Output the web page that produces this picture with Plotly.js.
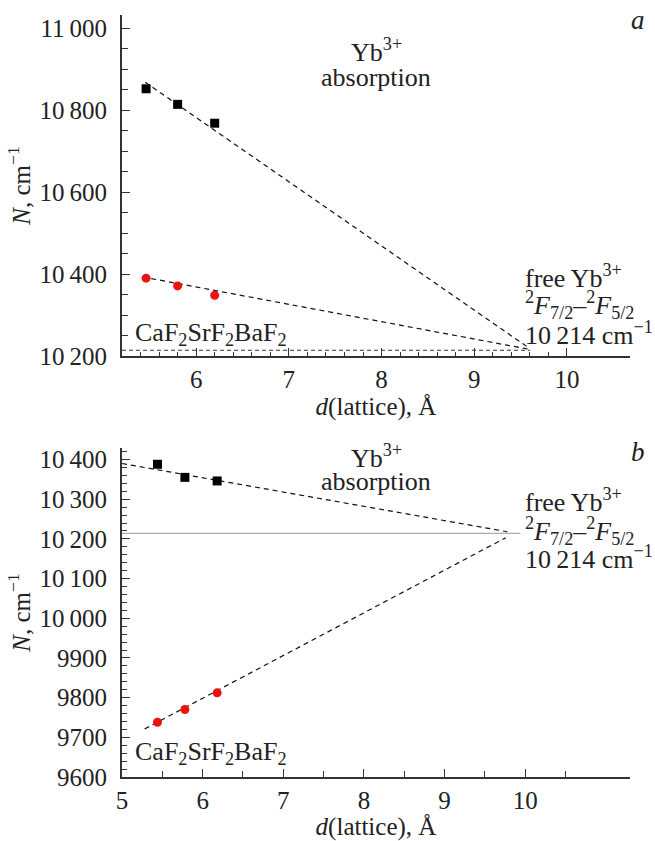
<!DOCTYPE html>
<html>
<head>
<meta charset="utf-8">
<script src="https://cdn.plot.ly/plotly-3.0.1.min.js"></script>
<style>
html,body{margin:0;padding:0;background:#fff;}
#chart{width:655px;height:841px;}
#preload{font-family:'Liberation Serif';position:absolute;left:0;top:0;color:#fff;font-size:20px;z-index:-1;}
</style>
</head>
<body>
<div id="preload">absorption <i>N d F</i> 10 800 − – Å</div>
<div id="chart"></div>
<script>
// ---- Data ----
// Panel a
const latticeA = [5.46, 5.80, 6.20];
const absorptionA = [10852, 10814, 10768];
const emissionA = [10390, 10371, 10348];
const fitAbsAx = [5.45, 9.6];
const fitAbsAy = [10868, 10218];
const fitEmAx = [5.42, 9.6];
const fitEmAy = [10393, 10216];
const freeAx = [5.2, 9.6];
const freeAy = [10214, 10214];
// Panel b
const latticeB = [5.44, 5.78, 6.18];
const absorptionB = [10388, 10355, 10346];
const emissionB = [9738, 9770, 9812];
const fitAbsBx = [5.0, 9.78];
const fitAbsBy = [10390, 10218];
const fitEmBx = [5.28, 9.76];
const fitEmBy = [9721, 10203];
const freeBx = [5.0, 9.94];
const freeBy = [10214, 10214];
// Tick labels
const yTickValsA = [10200, 10400, 10600, 10800, 11000];
const yTickTextA = ['10\u2009200', '10\u2009400', '10\u2009600', '10\u2009800', '11\u2009000'];
const xTickValsA = [6, 7, 8, 9, 10];
const yTickValsB = [9600, 9700, 9800, 9900, 10000, 10100, 10200, 10300, 10400];
const yTickTextB = ['9600', '9700', '9800', '9900', '10\u2009000', '10\u2009100', '10\u2009200', '10\u2009300', '10\u2009400'];
const xTickValsB = [5, 6, 7, 8, 9, 10];

// ---- Styling helpers ----
const W = 655, H = 841;
const px = v => v / W;
const py = v => 1 - v / H;
const FONT = 'Liberation Serif';
const TXT = '#222';
const AX = '#333';
const RED = '#ee1111';
const dash = {color: '#111', width: 1.2, dash: '5px,4px'};

function range(a, b, s) { const r = []; for (let v = a; v <= b + 1e-9; v += s) r.push(Math.round(v * 1000) / 1000); return r; }

const traces = [
  {x: freeAx, y: freeAy, xaxis: 'x', yaxis: 'y', mode: 'lines', line: {color: '#333', width: 1, dash: '4px,3px'}},
  {x: fitAbsAx, y: fitAbsAy, xaxis: 'x', yaxis: 'y', mode: 'lines', line: dash},
  {x: fitEmAx, y: fitEmAy, xaxis: 'x', yaxis: 'y', mode: 'lines', line: dash},
  {x: latticeA, y: absorptionA, xaxis: 'x', yaxis: 'y', mode: 'markers', marker: {symbol: 'square', size: 9, color: '#000'}},
  {x: latticeA, y: emissionA, xaxis: 'x', yaxis: 'y', mode: 'markers', marker: {symbol: 'circle', size: 9, color: RED}},
  {x: freeBx, y: freeBy, xaxis: 'x2', yaxis: 'y2', mode: 'lines', line: {color: '#aaa', width: 1.2}},
  {x: fitAbsBx, y: fitAbsBy, xaxis: 'x2', yaxis: 'y2', mode: 'lines', line: dash},
  {x: fitEmBx, y: fitEmBy, xaxis: 'x2', yaxis: 'y2', mode: 'lines', line: dash},
  {x: latticeB, y: absorptionB, xaxis: 'x2', yaxis: 'y2', mode: 'markers', marker: {symbol: 'square', size: 9, color: '#000'}},
  {x: latticeB, y: emissionB, xaxis: 'x2', yaxis: 'y2', mode: 'markers', marker: {symbol: 'circle', size: 9, color: RED}}
];

const tickFont = {family: FONT, size: 25, color: TXT};
const titleFont = {family: FONT, size: 25, color: TXT};
const baseAxis = {
  showgrid: false, zeroline: false, showline: true, linecolor: AX, linewidth: 2,
  ticks: 'inside', tickcolor: AX, tickwidth: 1.2
};

const xDom = [px(122), px(630)];
const layout = {
  width: W, height: H,
  margin: {l: 0, r: 0, t: 0, b: 0},
  paper_bgcolor: '#fff', plot_bgcolor: '#fff',
  showlegend: false,
  font: {family: FONT, size: 25, color: TXT},
  xaxis: Object.assign({}, baseAxis, {
    domain: xDom, anchor: 'y', range: [5.2, 10.68], tickfont: tickFont,
    tickmode: 'array', tickvals: xTickValsA, ticklen: 8,
    minor: {tickmode: 'array', tickvals: range(5.4, 9.8, 0.2), ticklen: 4, ticks: 'inside', tickcolor: AX, tickwidth: 1},
    title: {text: '<i>d</i>(lattice), Å', font: titleFont, standoff: 4}
  }),
  yaxis: Object.assign({}, baseAxis, {
    domain: [py(356), py(15)], anchor: 'x', range: [10200, 11032], tickfont: tickFont,
    tickmode: 'array', tickvals: yTickValsA, ticktext: yTickTextA, ticklen: 8,
    minor: {tickmode: 'array', tickvals: range(10250, 11000, 50), ticklen: 6, ticks: 'inside', tickcolor: AX, tickwidth: 1},
    ticklabelstandoff: 8,
    title: {text: '<i>N</i>, cm<sup>−1</sup>', font: titleFont, standoff: 2}
  }),
  xaxis2: Object.assign({}, baseAxis, {
    domain: xDom, anchor: 'y2', range: [5, 11.3], tickfont: tickFont,
    tickmode: 'array', tickvals: xTickValsB, ticklen: 8,
    minor: {tickmode: 'array', tickvals: range(5.5, 10.5, 1), ticklen: 6, ticks: 'inside', tickcolor: AX, tickwidth: 1},
    title: {text: '<i>d</i>(lattice), Å', font: titleFont, standoff: 4}
  }),
  yaxis2: Object.assign({}, baseAxis, {
    domain: [py(777), py(448)], anchor: 'x2', range: [9600, 10429], tickfont: tickFont,
    tickmode: 'array', tickvals: yTickValsB, ticktext: yTickTextB, ticklen: 8,
    minor: {tickmode: 'array', tickvals: range(9620, 10420, 20).filter(v => v % 100 !== 0), ticklen: 5, ticks: 'inside', tickcolor: AX, tickwidth: 1},
    ticklabelstandoff: 8,
    title: {text: '<i>N</i>, cm<sup>−1</sup>', font: titleFont, standoff: 2}
  }),
  annotations: []
};

function ann(text, x, y, xanchor, size, italic) {
  layout.annotations.push({
    text: italic ? '<i>' + text + '</i>' : text,
    xref: 'paper', yref: 'paper', x: px(x), y: py(y),
    xanchor: xanchor, yanchor: 'middle', showarrow: false,
    font: {family: FONT, size: size || 26, color: TXT}
  });
}
// Panel a
ann('Yb<sup>3+</sup>', 376, 50, 'center');
ann('absorption', 376, 78, 'center');
ann('free\u2009Yb<sup>3+</sup>', 523, 277, 'left');
ann('<sup>2</sup><i>F</i><sub>7/2</sub>–<sup>2</sup><i>F</i><sub>5/2</sub>', 523, 305, 'left');
ann('10\u2009214 cm<sup>−1</sup>', 523, 333, 'left');
ann('a', 638, 20, 'center', 27, true);
ann('CaF<sub>2</sub>SrF<sub>2</sub>BaF<sub>2</sub>', 133, 334, 'left');
// Panel b
ann('Yb<sup>3+</sup>', 376, 456, 'center');
ann('absorption', 376, 482, 'center');
ann('free\u2009Yb<sup>3+</sup>', 523, 500, 'left');
ann('<sup>2</sup><i>F</i><sub>7/2</sub>–<sup>2</sup><i>F</i><sub>5/2</sub>', 523, 531, 'left');
ann('10\u2009214 cm<sup>−1</sup>', 523, 557, 'left');
ann('b', 638, 452, 'center', 27, true);
ann('CaF<sub>2</sub>SrF<sub>2</sub>BaF<sub>2</sub>', 133, 753, 'left');

Plotly.newPlot('chart', traces, layout, {displayModeBar: false});
</script>
</body>
</html>
